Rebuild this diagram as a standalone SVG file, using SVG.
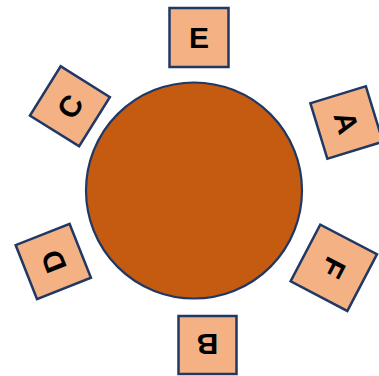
<svg xmlns="http://www.w3.org/2000/svg" width="379" height="376" viewBox="0 0 379 376">
  <style>
    .seat rect { fill: #F4B183; stroke: #1F3864; stroke-width: 2.5; }
    .seat text { font-family: "Liberation Sans", Arial, sans-serif; font-weight: bold; font-size: 30px; fill: #000; text-anchor: middle; }
  </style>
  <rect width="379" height="376" fill="#ffffff"/>
  <g id="table">
    <circle cx="194" cy="190.5" r="108" fill="#C55A11" stroke="#1F3864" stroke-width="2.2"/>
  </g>
  <g id="connectors"></g>
  <g id="E" class="seat" transform="translate(199,37.5) rotate(0)">
    <rect x="-29.5" y="-29.5" width="59" height="59"/>
    <text x="0" y="10.7">E</text>
  </g>
  <g id="C" class="seat" transform="translate(69.9,106.3) rotate(-58)">
    <rect x="-29" y="-29" width="58" height="58"/>
    <text x="0" y="10.7">C</text>
  </g>
  <g id="A" class="seat" transform="translate(346.6,122.5) rotate(73)">
    <rect x="-29" y="-29" width="58" height="58"/>
    <text x="0" y="10.7">A</text>
  </g>
  <g id="D" class="seat" transform="translate(53.3,261.4) rotate(-111.6)">
    <rect x="-29" y="-29" width="58" height="58"/>
    <text x="0" y="10.7">D</text>
  </g>
  <g id="F" class="seat" transform="translate(333.8,267.8) rotate(117.6)">
    <rect x="-32" y="-32" width="64" height="64"/>
    <text x="0" y="10.7">F</text>
  </g>
  <g id="B" class="seat" transform="translate(207.5,345) rotate(180)">
    <rect x="-29" y="-29" width="58" height="58"/>
    <text x="0" y="10.7">B</text>
  </g>
</svg>
